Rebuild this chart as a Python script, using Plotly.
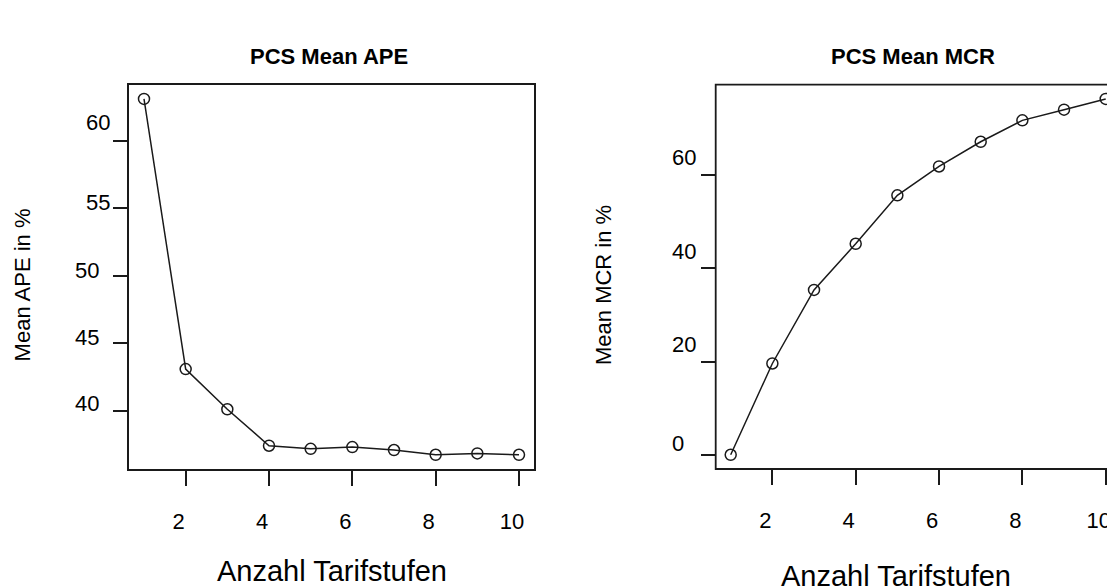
import plotly.graph_objects as go

# Number of tariff levels and the resulting mean error / mean MCR
stufen = [1, 2, 3, 4, 5, 6, 7, 8, 9, 10]
mean_ape = [63.1, 43.08, 40.1, 37.4, 37.17, 37.3, 37.08, 36.73, 36.83, 36.73]
mean_mcr = [0.0, 19.6, 35.4, 45.3, 55.7, 61.9, 67.2, 71.8, 74.1, 76.4]

x_ticks = [2, 4, 6, 8, 10]
ape_ticks = [40, 45, 50, 55, 60]
mcr_ticks = [0, 20, 40, 60]

W, H = 1107, 587
FONT = "Liberation Sans, Arial, sans-serif"
INK = "#1a1a1a"


def padded(vals, frac=0.04):
    lo, hi = min(vals), max(vals)
    d = (hi - lo) * frac
    return [lo - d, hi + d]


# plot boxes in pixels (left, right, top, bottom)
box_l = (129, 534, 84.7, 469)
box_r = (715.7, 1119, 84.7, 469)

def px(v):
    return v / W

def py(v):
    return 1 - v / H

xr = padded(stufen)
px_per_unit = (box_l[1] - box_l[0]) / (xr[1] - xr[0])
xr_right = [xr[0], xr[0] + (W - box_r[0]) / px_per_unit]

fig = go.Figure()

line_style = dict(color=INK, width=1.5)
marker_style = dict(symbol="circle-open", size=11, color=INK, line=dict(width=1.5, color=INK))

fig.add_trace(go.Scatter(x=stufen, y=mean_ape, mode="lines+markers", line=line_style,
                         marker=marker_style, xaxis="x", yaxis="y", showlegend=False))
fig.add_trace(go.Scatter(x=stufen, y=mean_mcr, mode="lines+markers", line=line_style,
                         marker=marker_style, xaxis="x2", yaxis="y2", showlegend=False))

ydom = [py(box_l[3]), py(box_l[2])]

xaxis_common = dict(
    tickvals=x_ticks, ticktext=[str(t) for t in x_ticks], ticks="outside", ticklen=15,
    tickwidth=1.6, tickcolor=INK, showgrid=False, zeroline=False, automargin=False,
    tickfont=dict(family=FONT, size=22, color="black"), ticklabelshift=-7,
    ticklabelstandoff=17, ticklabeloverflow="allow",
)
yaxis_common = dict(
    ticks="outside", ticklen=14, tickwidth=1.6, tickcolor=INK, showgrid=False,
    zeroline=False, showticklabels=False, domain=ydom, automargin=False,
)

fig.update_layout(
    width=W, height=H, margin=dict(l=0, r=0, t=0, b=0, autoexpand=False),
    paper_bgcolor="white", plot_bgcolor="white",
    xaxis=dict(**xaxis_common, anchor="y", domain=[px(box_l[0]), px(box_l[1])], range=xr,
               showline=True, mirror=True, linecolor=INK, linewidth=1.8),
    yaxis=dict(**yaxis_common, anchor="x", range=padded(mean_ape), tickvals=ape_ticks,
               showline=True, mirror=True, linecolor=INK, linewidth=1.8),
    xaxis2=dict(**xaxis_common, anchor="y2", domain=[px(box_r[0]), 1.0], range=xr_right,
                showline=False),
    yaxis2=dict(**yaxis_common, anchor="x2", range=padded(mean_mcr), tickvals=mcr_ticks,
                showline=False),
)

# frame of the right panel (its right edge runs past the page)
fig.add_shape(type="rect", xref="paper", yref="paper",
              x0=px(box_r[0]), x1=px(box_r[1]), y0=ydom[0], y1=ydom[1],
              line=dict(color=INK, width=1.8), layer="above")

ann = []
tick_font = dict(family=FONT, size=22, color="black")

# y tick labels, written horizontally just above each tick
ape_lab_x = [100.7, 100.7, 100.7, 112.3, 112.3]
ape_lab_dy = [7, 6, 5, 6, 18]
for v, xx, dy in zip(ape_ticks, ape_lab_x, ape_lab_dy):
    ann.append(dict(text=str(v), x=px(xx), xref="paper", y=v, yref="y", xanchor="right",
                    yanchor="middle", yshift=dy, showarrow=False, font=tick_font))
mcr_lab_x = [686, 698.3, 698.3, 698.3]
mcr_lab_dy = [11, 17, 17, 18]
for v, xx, dy in zip(mcr_ticks, mcr_lab_x, mcr_lab_dy):
    ann.append(dict(text=str(v), x=px(xx), xref="paper", y=v, yref="y2", xanchor="right",
                    yanchor="middle", yshift=dy, showarrow=False, font=tick_font))

title_font = dict(family=FONT, size=22, color="black")
ann.append(dict(text="<b>PCS Mean APE</b>", x=px(329), y=py(57), xref="paper", yref="paper",
                xanchor="center", yanchor="middle", showarrow=False, font=title_font))
ann.append(dict(text="<b>PCS Mean MCR</b>", x=px(913), y=py(57), xref="paper", yref="paper",
                xanchor="center", yanchor="middle", showarrow=False, font=title_font))

xlab_font = dict(family=FONT, size=29, color="black")
ann.append(dict(text="Anzahl Tarifstufen", x=px(332), y=py(571), xref="paper", yref="paper",
                xanchor="center", yanchor="middle", showarrow=False, font=xlab_font))
ann.append(dict(text="Anzahl Tarifstufen", x=px(896), y=py(576), xref="paper", yref="paper",
                xanchor="center", yanchor="middle", showarrow=False, font=xlab_font))

ylab_font = dict(family=FONT, size=22, color="black")
ann.append(dict(text="Mean APE in %", x=px(22.4), y=py(285), xref="paper", yref="paper",
                xanchor="center", yanchor="middle", textangle=-90, showarrow=False, font=ylab_font))
ann.append(dict(text="Mean MCR in %", x=px(603), y=py(285), xref="paper", yref="paper",
                xanchor="center", yanchor="middle", textangle=-90, showarrow=False, font=ylab_font))

fig.update_layout(annotations=ann)
fig.write_html("out.html")
